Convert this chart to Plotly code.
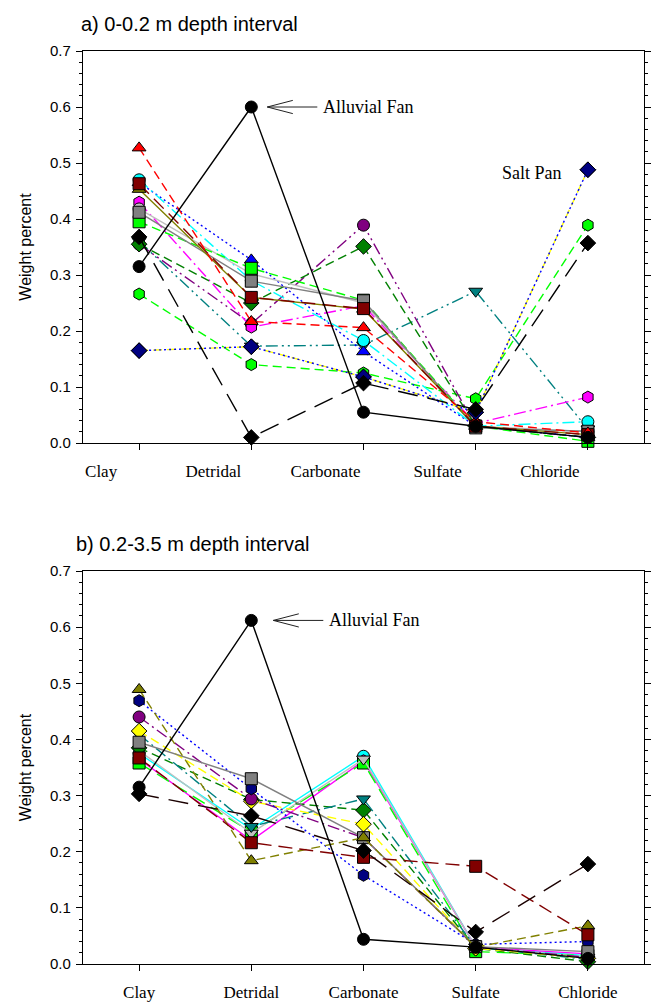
import plotly.graph_objects as go
from plotly.subplots import make_subplots

categories = ["Clay", "Detridal", "Carbonate", "Sulfate", "Chloride"]
y_ticks = [0.0, 0.1, 0.2, 0.3, 0.4, 0.5, 0.6, 0.7]

# ---- panel a: 0-0.2 m depth interval ----
a_fan = [0.315, 0.600, 0.055, 0.030, 0.010]
a_black_diamond = [0.368, 0.010, 0.107, 0.060, 0.357]
a_salt_pan = [0.165, 0.172, 0.118, 0.055, 0.488]
a_red = [0.527, 0.217, 0.206, 0.038, 0.018]
a_cyan = [0.470, 0.290, 0.183, 0.030, 0.038]
a_darkred = [0.463, 0.260, 0.240, 0.030, 0.015]
a_olive = [0.453, 0.260, 0.239, 0.030, 0.015]
a_magenta = [0.430, 0.207, 0.245, 0.035, 0.082]
a_gray = [0.412, 0.289, 0.254, 0.027, 0.021]
a_silver = [0.418, 0.302, 0.250, 0.030, 0.020]
a_lime_sq = [0.395, 0.312, 0.255, 0.030, 0.003]
a_green = [0.355, 0.250, 0.351, 0.030, 0.010]
a_purple = [0.355, 0.213, 0.389, 0.030, 0.010]
a_teal = [0.360, 0.173, 0.175, 0.271, 0.025]
a_lime_hex = [0.266, 0.140, 0.125, 0.079, 0.389]
a_blue = [0.465, 0.327, 0.163, 0.030, 0.010]

# ---- panel b: 0.2-3.5 m depth interval ----
b_fan = [0.315, 0.612, 0.044, 0.030, 0.010]
b_black_diamond = [0.303, 0.264, 0.202, 0.057, 0.178]
b_darkred = [0.367, 0.216, 0.190, 0.174, 0.052]
b_olive = [0.489, 0.184, 0.225, 0.030, 0.068]
b_navy = [0.469, 0.312, 0.158, 0.035, 0.040]
b_purple = [0.440, 0.294, 0.225, 0.030, 0.012]
b_yellow = [0.415, 0.290, 0.249, 0.028, 0.010]
b_teal = [0.409, 0.245, 0.294, 0.030, 0.008]
b_gray = [0.395, 0.330, 0.225, 0.031, 0.022]
b_green = [0.385, 0.293, 0.274, 0.028, 0.004]
b_lime = [0.358, 0.235, 0.358, 0.022, 0.015]
b_magenta = [0.365, 0.220, 0.362, 0.030, 0.018]
b_silver = [0.380, 0.233, 0.365, 0.030, 0.012]
b_cyan = [0.375, 0.240, 0.370, 0.030, 0.015]

DASH = "9px,5px"
LDASH = "14px,7px"
XLDASH = "20px,10px"
DOT = "2px,3px"
DASHDOT = "12px,4px,2px,4px"
DASHDOTDOT = "12px,4px,2px,4px,2px,4px"

# (values, line colour, marker colour, symbol, dash)
series_a = [
    (a_lime_hex, "#00ff00", "#00ff00", "hexagon", DASH),
    (a_teal, "#008080", "#008080", "triangle-down", DASHDOTDOT),
    (a_purple, "#800080", "#800080", "circle", DASHDOTDOT),
    (a_magenta, "#ff00ff", "#ff00ff", "hexagon", DASHDOT),
    (a_green, "#008000", "#008000", "diamond", DASH),
    (a_blue, "#0000ff", "#0000ff", "triangle-up", DOT),
    (a_cyan, "#00ffff", "#00ffff", "circle", DASHDOT),
    (a_silver, "#c0c0c0", "#c0c0c0", "circle", "solid"),
    (a_lime_sq, "#00ff00", "#00ff00", "square", DASH),
    (a_gray, "#808080", "#808080", "square", "solid"),
    (a_olive, "#808000", "#808000", "triangle-up", "solid"),
    (a_darkred, "#800000", "#800000", "square", LDASH),
    (a_red, "#ff0000", "#ff0000", "triangle-up", DASH),
    (a_salt_pan, "#ffff00", "#000080", "diamond", DASH),
    (a_salt_pan, "#0000ff", "#000080", "diamond", DOT),
    (a_black_diamond, "#000000", "#000000", "diamond", XLDASH),
    (a_fan, "#000000", "#000000", "circle", "solid"),
]

series_b = [
    (b_cyan, "#00ffff", "#00ffff", "circle", "solid"),
    (b_magenta, "#ff00ff", "#ff00ff", "hexagon", "solid"),
    (b_lime, "#00ff00", "#00ff00", "square", LDASH),
    (b_silver, "#c0c0c0", "#c0c0c0", "triangle-down", "solid"),
    (b_green, "#008000", "#008000", "diamond", DASH),
    (b_teal, "#008080", "#008080", "triangle-down", DASHDOT),
    (b_yellow, "#ffff00", "#ffff00", "diamond", DASH),
    (b_purple, "#800080", "#800080", "circle", DASHDOT),
    (b_navy, "#0000ff", "#000080", "hexagon", DOT),
    (b_gray, "#808080", "#808080", "square", "solid"),
    (b_olive, "#808000", "#808000", "triangle-up", DASH),
    (b_darkred, "#800000", "#800000", "square", LDASH),
    (b_black_diamond, "#1a0000", "#000000", "diamond", XLDASH),
    (b_fan, "#000000", "#000000", "circle", "solid"),
]

fig = make_subplots(rows=2, cols=1, vertical_spacing=0.14)

for row, series in ((1, series_a), (2, series_b)):
    for vals, lc, mc, sym, dash in series:
        fig.add_trace(
            go.Scatter(
                x=categories, y=vals, mode="lines+markers",
                line=dict(color=lc, width=1.4, dash=dash),
                marker=dict(symbol=sym, size=12, color=mc,
                            line=dict(color="#000000", width=1)),
                cliponaxis=False, showlegend=False, hoverinfo="skip",
            ),
            row=row, col=1,
        )

W, H = 651, 1003
L, R, T, B = 83, 7, 51, 39
plot_h = H - T - B
top_a, bot_a = 51, 443
top_b, bot_b = 571, 964


def py(p):
    return (H - B - p) / plot_h


def px(p):
    return (p - L) / (W - L - R)


fig.update_layout(
    width=W, height=H,
    margin=dict(l=L, r=R, t=T, b=B, autoexpand=False),
    paper_bgcolor="white", plot_bgcolor="white",
    showlegend=False,
    yaxis=dict(domain=[py(bot_a), py(top_a)]),
    yaxis2=dict(domain=[py(bot_b), py(top_b)]),
)

fig.update_yaxes(
    range=[0, 0.7], tickvals=y_ticks, tickformat=".1f",
    ticks="outside", ticklen=6, tickwidth=1, tickcolor="#000",
    showline=True, linecolor="#000", linewidth=1.3, mirror="allticks",
    showgrid=False, zeroline=False, automargin=False,
    minor=dict(dtick=0.02, ticks="outside", ticklen=3, tickcolor="#000", showgrid=False),
    tickfont=dict(family="Liberation Sans, Arial", size=15, color="#000"),
    ticklabelstandoff=2,
    title=dict(text="Weight percent", font=dict(family="Liberation Sans, Arial", size=16, color="#000"),
               standoff=14),
)
fig.update_xaxes(
    range=[-0.5, 4.5], type="category",
    ticks="outside", ticklen=6, tickwidth=1, tickcolor="#000",
    showline=True, linecolor="#000", linewidth=1.3, mirror=True,
    showgrid=False, zeroline=False, automargin=False,
    tickfont=dict(family="Liberation Serif, Times New Roman", size=17, color="#000"),
    ticklabelstandoff=6,
)
fig.update_xaxes(ticklabelshift=-38, row=1, col=1)

ann = []
title_font = dict(family="Liberation Sans, Arial", size=20, color="#000")
ann.append(dict(text="a) 0-0.2 m depth interval", xref="paper", yref="paper",
                x=px(79), y=py(24), xanchor="left", yanchor="middle",
                showarrow=False, font=title_font))
ann.append(dict(text="b) 0.2-3.5 m depth interval", xref="paper", yref="paper",
                x=px(74), y=py(544), xanchor="left", yanchor="middle",
                showarrow=False, font=title_font))

serif = dict(family="Liberation Serif, Times New Roman", size=18, color="#000")
for xr, yr, val, shift in (("x", "y", a_fan[1], 16), ("x2", "y2", b_fan[1], 22)):
    ann.append(dict(text="Alluvial Fan", xref=xr, yref=yr, x=categories[1], y=val,
                    ax=50, ay=0, xshift=shift, showarrow=True, arrowhead=0, arrowwidth=1,
                    arrowcolor="#222", xanchor="left", borderpad=5, font=serif))
    for dy in (-7, 7):
        ann.append(dict(text="", xref=xr, yref=yr, x=categories[1], y=val,
                        ax=27, ay=dy, xshift=shift, showarrow=True, arrowhead=0, arrowwidth=1,
                        arrowcolor="#222"))
ann.append(dict(text="Salt Pan", xref="x", yref="y", x=categories[4], y=a_salt_pan[4],
                xshift=-24, yshift=-3, xanchor="right", showarrow=False, font=serif))

fig.update_layout(annotations=ann)
fig.write_html("out.html")
